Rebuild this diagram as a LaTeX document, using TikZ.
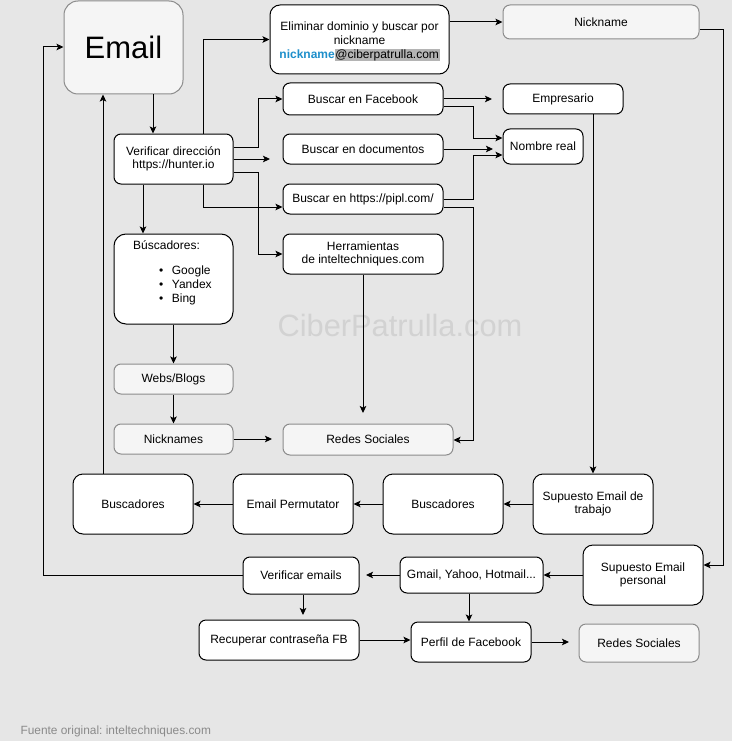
\documentclass[tikz,border=0pt]{standalone}
\usepackage{fontspec}
\setmainfont{Liberation Sans}
\frenchspacing
\usetikzlibrary{arrows.meta}
\definecolor{bg}{HTML}{E6E6E6}
\definecolor{lightfill}{HTML}{F5F5F5}
\definecolor{lightdraw}{HTML}{8C8C8C}
\definecolor{wmark}{HTML}{D2D2D2}
\definecolor{nickblue}{HTML}{1E8FCB}
\definecolor{hlgray}{HTML}{B4B4B4}
\definecolor{foot}{HTML}{8A8A8A}
\newcommand{\bx}[7]{\node[#6, minimum width={(#4-#2)*1pt}, minimum height={(#5-#3)*1pt}] (#1) at ({(#2+#4)/2},{(#3+#5)/2}) {#7};}
\begin{document}
\begin{tikzpicture}[x=1pt,y=-1pt,
  box/.style={draw=black, fill=white, rounded corners=7pt, line width=1pt, inner sep=0pt, align=center, font=\fontsize{12}{13.6}\selectfont},
  lbox/.style={box, draw=lightdraw, fill=lightfill},
  arr/.style={line width=1pt, -{Stealth[length=7pt,width=6.5pt,inset=1.5pt]}},
  wm/.style={text=wmark, font=\fontsize{30.8}{33}\selectfont},
  ft/.style={text=foot, font=\fontsize{11.9}{13}\selectfont}]
\useasboundingbox (0,0) rectangle (732,741);
\fill[bg] (0,0) rectangle (732,741);
\node[wm] (wmk) at (400,325) {CiberPatrulla.com};
\node[ft, anchor=west] (fuente) at (17,731) {Fuente original: inteltechniques.com};
% nodes
\bx{email}{64}{1}{183}{94}{lbox, rounded corners=14pt, font=\fontsize{31}{34}\selectfont}{Email}
\bx{elim}{270}{5}{449}{74}{box, rounded corners=10pt}{\mbox{}\\[-0.5pt]Eliminar dominio y buscar por\\nickname\\{\color{nickblue}\textbf{nickname}}{\setlength{\fboxsep}{0.6pt}\colorbox{hlgray}{@ciberpatrulla.com}}}
\bx{nick}{503}{5}{699}{39}{lbox}{Nickname}
\bx{ver}{114}{134}{233}{184}{box}{Verificar dirección\\https://hunter.io}
\bx{fb}{283}{83}{443}{115}{box}{Buscar en Facebook}
\bx{doc}{283}{134}{443}{164}{box}{Buscar en documentos}
\bx{pipl}{283}{184}{443}{214}{box}{Buscar en https://pipl.com/}
\bx{emp}{503}{84}{623}{114}{box}{Empresario}
\bx{nom}{503}{129}{583}{164}{box}{Nombre real}
\bx{herr}{283}{234}{443}{274}{box}{Herramientas\\de inteltechniques.com}
\bx{busq}{114}{234}{233}{324}{box, rounded corners=12pt}{}
\node[anchor=north west, align=left, inner sep=0pt, font=\fontsize{12}{14}\selectfont] (busqt) at (133,240)
  {Búscadores:\\[11pt]\hspace{26pt}\textbullet\hspace{8.5pt}Google\\\hspace{26pt}\textbullet\hspace{8.5pt}Yandex\\\hspace{26pt}\textbullet\hspace{8.5pt}Bing};
\bx{web}{114}{364}{233}{394}{lbox}{Webs/Blogs}
\bx{nicks}{114}{424}{233}{454}{lbox}{Nicknames}
\bx{redes1}{283}{424}{453}{455}{lbox}{Redes Sociales}
\bx{bus1}{73}{474}{193}{534}{box, rounded corners=10pt}{Buscadores}
\bx{perm}{233}{474}{353}{534}{box, rounded corners=10pt}{Email Permutator}
\bx{bus2}{383}{474}{503}{534}{box, rounded corners=10pt}{Buscadores}
\bx{trab}{533}{474}{653}{534}{box, rounded corners=10pt}{Supuesto Email de\\trabajo}
\bx{pers}{583}{545}{703}{605}{box, rounded corners=10pt}{Supuesto Email\\personal}
\bx{veme}{243}{557}{359}{594}{box}{Verificar emails}
\bx{gmail}{400}{557}{543}{593}{box}{Gmail, Yahoo, Hotmail...}
\bx{recup}{199}{620}{359}{660}{box}{Recuperar contraseña FB}
\bx{perfil}{411}{622}{531}{662}{box}{Perfil de Facebook}
\bx{redes2}{579}{624}{699}{662}{lbox}{Redes Sociales}
% free ends
\coordinate (docend) at (270,159);
\coordinate (empend) at (492,99);
\coordinate (nomend) at (493,149);
\coordinate (herrend) at (363,413);
\coordinate (nicksend) at (272,439);
\coordinate (gmailend) at (366,575);
\coordinate (vemeend) at (303,615);
\coordinate (perfilend) at (569,642);
% connectors
\draw[arr] (email.south -| 153,0) -- (ver.north -| 153,0);
\draw[arr] (ver.north -| 203,0) |- (elim.west);
\draw[arr] (ver.east |- 0,147) -| (fb.west -| 258,0) -- (fb.west);
\draw[arr] (ver.east |- 0,159) -- (docend);
\draw[arr] (ver.east |- 0,172) -| (herr.west -| 258,0) -- (herr.west);
\draw[arr] (ver.south -| 203,0) |- (pipl.west |- 0,207);
\draw[arr] (ver.south -| 143,0) -- (busq.north -| 143,0);
\draw[arr] (elim.east |- nick.west) -- (nick.west);
\draw[arr] (nick.east |- 0,30) -| (723,565) -- (pers.east |- 0,565);
\draw[arr] (fb.east) -- (empend);
\draw[arr] (fb.east |- 0,107) -| (473,138) -- (nom.west |- 0,138);
\draw[arr] (doc.east) -- (nomend);
\draw[arr] (pipl.east) -| (473,155) -- (nom.west |- 0,155);
\draw[arr] (pipl.east |- 0,207) -| (473,440) -- (redes1.east |- 0,440);
\draw[arr] (emp.south -| 593,0) -- (trab.north -| 593,0);
\draw[arr] (herr.south) -- (herrend);
\draw[arr] (busq.south) -- (web.north);
\draw[arr] (web.south) -- (nicks.north);
\draw[arr] (nicks.east) -- (nicksend);
\draw[arr] (trab.west) -- (bus2.east);
\draw[arr] (bus2.west) -- (perm.east);
\draw[arr] (perm.west) -- (bus1.east);
\draw[arr] (bus1.north -| 103,0) -- (email.south -| 103,0);
\draw[arr] (pers.west) -- (gmail.east);
\draw[arr] (gmail.west) -- (gmailend);
\draw[arr] (gmail.south -| 469,0) -- (perfil.north -| 469,0);
\draw[arr] (veme.south -| 303,0) -- (vemeend);
\draw[arr] (veme.west) -| (43,47) -- (email.west |- 0,47);
\draw[arr] (recup.east) -- (perfil.west |- recup.east);
\draw[arr] (perfil.east) -- (perfilend);
\end{tikzpicture}
\end{document}
